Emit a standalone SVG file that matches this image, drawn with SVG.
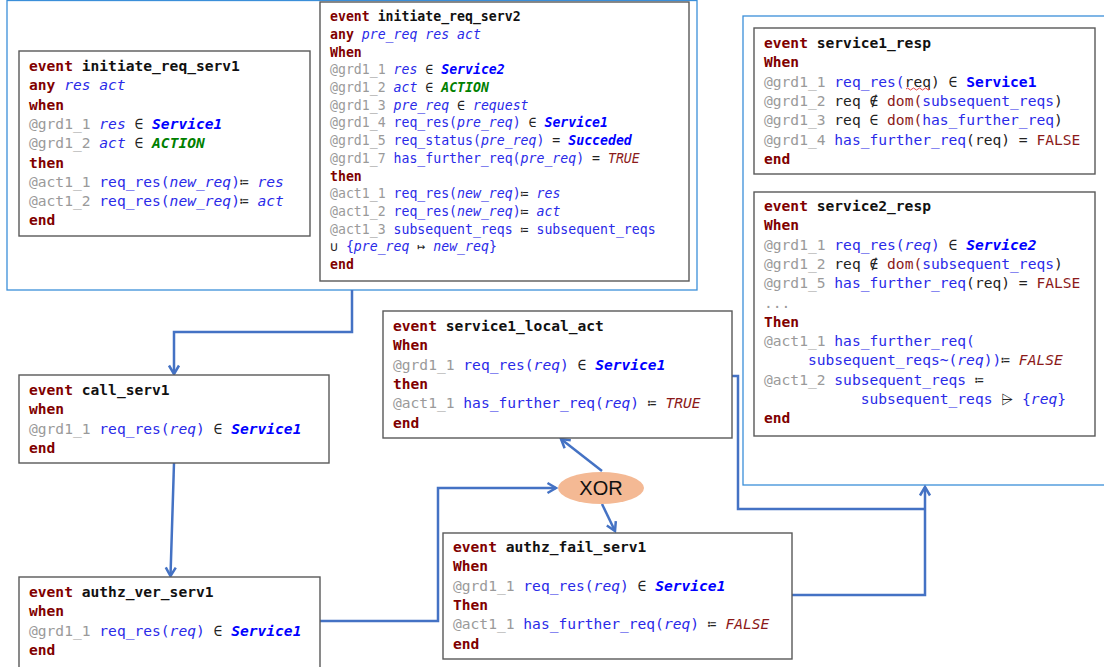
<svg xmlns="http://www.w3.org/2000/svg" width="1104" height="667" viewBox="0 0 1104 667" xml:space="preserve">
<style>
text{white-space:pre;font-family:"DejaVu Sans Mono","Liberation Mono",monospace;fill:#222}
.c1{font-size:14.6px}
.c2{font-size:13.2px}
.k{fill:#800000;font-weight:bold}
.n{fill:#111;font-weight:bold}
.g{fill:#9a9a9a}
.b{fill:#2a2ae8}
.v{fill:#2a2ae8;font-style:italic}
.s{fill:#0000ff;font-weight:bold;font-style:italic}
.sb{fill:#0000ff;font-weight:bold}
.a{fill:#008000;font-weight:bold;font-style:italic}
.t{fill:#8b1a1a;font-style:italic}
.r{fill:#8b1a1a}
.o{fill:#222}
.oi{fill:#222;font-style:italic}
.box{fill:#fff;stroke:#595959;stroke-width:1.4}
.cont{fill:none;stroke:#3b8fd9;stroke-width:1.3}
.con{fill:none;stroke:#4472c4;stroke-width:2.5}
</style>
<defs>
<marker id="arr" markerUnits="userSpaceOnUse" viewBox="0 0 12 12" markerWidth="12" markerHeight="12" refX="10.5" refY="6" orient="auto" overflow="visible">
<path d="M2,1 L10.5,6 L2,11" fill="none" stroke="#4472c4" stroke-width="2.5"/>
</marker>
</defs>
<rect width="1104" height="667" fill="#fff"/>
<g id="containers">
<rect class="cont" x="7" y="0.5" width="690" height="289.5"/>
<rect class="cont" x="743" y="16" width="370" height="469"/>
</g>
<g id="connectors">
<path class="con" d="M352,290 V332 H174 V374" marker-end="url(#arr)"/>
<path class="con" d="M174,463 L170.5,576" marker-end="url(#arr)"/>
<path class="con" d="M320,621 H438 V488 H556" marker-end="url(#arr)"/>
<path class="con" d="M602,471 L561,439" marker-end="url(#arr)"/>
<path class="con" d="M602,504 L615,531" marker-end="url(#arr)"/>
<path class="con" d="M792,595 H925 V487" marker-end="url(#arr)"/>
<path class="con" d="M732,376 H738 V509 H925"/>
</g>
<g id="initiate_req_serv1">
<rect class="box" x="19" y="51" width="291" height="185"/>
<text class="c1" x="29" y="71"><tspan class="k">event</tspan> <tspan class="n">initiate_req_serv1</tspan></text>
<text class="c1" x="29" y="90.3"><tspan class="k">any</tspan> <tspan class="v">res act</tspan></text>
<text class="c1" x="29" y="109.6"><tspan class="k">when</tspan></text>
<text class="c1" x="29" y="128.9"><tspan class="g">@grd1_1</tspan> <tspan class="v">res</tspan> <tspan class="oi">∈</tspan> <tspan class="s">Service1</tspan></text>
<text class="c1" x="29" y="148.2"><tspan class="g">@grd1_2</tspan> <tspan class="v">act</tspan> <tspan class="oi">∈</tspan> <tspan class="a">ACTION</tspan></text>
<text class="c1" x="29" y="167.5"><tspan class="k">then</tspan></text>
<text class="c1" x="29" y="186.8"><tspan class="g">@act1_1</tspan> <tspan class="b">req_res(</tspan><tspan class="v">new_req</tspan><tspan class="b">)</tspan><tspan class="o">≔</tspan> <tspan class="v">res</tspan></text>
<text class="c1" x="29" y="206.1"><tspan class="g">@act1_2</tspan> <tspan class="b">req_res(</tspan><tspan class="v">new_req</tspan><tspan class="b">)</tspan><tspan class="o">≔</tspan> <tspan class="v">act</tspan></text>
<text class="c1" x="29" y="225.4"><tspan class="k">end</tspan></text>
</g>
<g id="initiate_req_serv2">
<rect class="box" x="320" y="2" width="369" height="279"/>
<text class="c2" x="330" y="21.2"><tspan class="k">event</tspan> <tspan class="n">initiate_req_serv2</tspan></text>
<text class="c2" x="330" y="38.9"><tspan class="k">any</tspan> <tspan class="v">pre_req res act</tspan></text>
<text class="c2" x="330" y="56.6"><tspan class="k">When</tspan></text>
<text class="c2" x="330" y="74.3"><tspan class="g">@grd1_1</tspan> <tspan class="v">res</tspan> <tspan class="oi">∈</tspan> <tspan class="s">Service2</tspan></text>
<text class="c2" x="330" y="92"><tspan class="g">@grd1_2</tspan> <tspan class="v">act</tspan> <tspan class="oi">∈</tspan> <tspan class="a">ACTION</tspan></text>
<text class="c2" x="330" y="109.7"><tspan class="g">@grd1_3</tspan> <tspan class="v">pre_req</tspan> <tspan class="oi">∈</tspan> <tspan class="v">request</tspan></text>
<text class="c2" x="330" y="127.4"><tspan class="g">@grd1_4</tspan> <tspan class="b">req_res(</tspan><tspan class="v">pre_req</tspan><tspan class="b">)</tspan> <tspan class="oi">∈</tspan> <tspan class="s">Service1</tspan></text>
<text class="c2" x="330" y="145.1"><tspan class="g">@grd1_5</tspan> <tspan class="b">req_status(</tspan><tspan class="v">pre_req</tspan><tspan class="b">)</tspan> <tspan class="o">=</tspan> <tspan class="s">Succeded</tspan></text>
<text class="c2" x="330" y="162.8"><tspan class="g">@grd1_7</tspan> <tspan class="b">has_further_req(</tspan><tspan class="v">pre_req</tspan><tspan class="b">)</tspan> <tspan class="o">=</tspan> <tspan class="t">TRUE</tspan></text>
<text class="c2" x="330" y="180.5"><tspan class="k">then</tspan></text>
<text class="c2" x="330" y="198.2"><tspan class="g">@act1_1</tspan> <tspan class="b">req_res(</tspan><tspan class="v">new_req</tspan><tspan class="b">)</tspan><tspan class="o">≔</tspan> <tspan class="v">res</tspan></text>
<text class="c2" x="330" y="215.9"><tspan class="g">@act1_2</tspan> <tspan class="b">req_res(</tspan><tspan class="v">new_req</tspan><tspan class="b">)</tspan><tspan class="o">≔</tspan> <tspan class="v">act</tspan></text>
<text class="c2" x="330" y="233.6"><tspan class="g">@act1_3</tspan> <tspan class="b">subsequent_reqs</tspan> <tspan class="o">≔</tspan> <tspan class="b">subsequent_reqs</tspan></text>
<text class="c2" x="330" y="251.3"><tspan class="o">∪</tspan> <tspan class="b">{</tspan><tspan class="v">pre_req</tspan> <tspan class="o">↦</tspan> <tspan class="v">new_req</tspan><tspan class="b">}</tspan></text>
<text class="c2" x="330" y="269"><tspan class="k">end</tspan></text>
</g>
<g id="service1_resp">
<rect class="box" x="754" y="28" width="341" height="146"/>
<text class="c1" x="764" y="48"><tspan class="k">event</tspan> <tspan class="n">service1_resp</tspan></text>
<text class="c1" x="764" y="67.3"><tspan class="k">When</tspan></text>
<text class="c1" x="764" y="86.6"><tspan class="g">@grd1_1</tspan> <tspan class="b">req_res(</tspan><tspan class="o">req</tspan><tspan class="o">)</tspan> <tspan class="o">∈</tspan> <tspan class="sb">Service1</tspan></text>
<path d="M906,89 q1.5,-2 3,0 t3,0 t3,0 t3,0 t3,0 t3,0 t3,0 t3,0" fill="none" stroke="#e03030" stroke-width="0.9"/>
<text class="c1" x="764" y="105.9"><tspan class="g">@grd1_2</tspan> <tspan class="o">req</tspan> <tspan class="o">∉</tspan> <tspan class="r">dom(</tspan><tspan class="b">subsequent_reqs</tspan><tspan class="o">)</tspan></text>
<text class="c1" x="764" y="125.2"><tspan class="g">@grd1_3</tspan> <tspan class="o">req</tspan> <tspan class="o">∈</tspan> <tspan class="r">dom(</tspan><tspan class="b">has_further_req</tspan><tspan class="o">)</tspan></text>
<text class="c1" x="764" y="144.5"><tspan class="g">@grd1_4</tspan> <tspan class="b">has_further_req</tspan><tspan class="o">(req)</tspan> <tspan class="o">=</tspan> <tspan class="r">FALSE</tspan></text>
<text class="c1" x="764" y="163.8"><tspan class="k">end</tspan></text>
</g>
<g id="service2_resp">
<rect class="box" x="754" y="192" width="341" height="244"/>
<text class="c1" x="764" y="211"><tspan class="k">event</tspan> <tspan class="n">service2_resp</tspan></text>
<text class="c1" x="764" y="230.3"><tspan class="k">When</tspan></text>
<text class="c1" x="764" y="249.6"><tspan class="g">@grd1_1</tspan> <tspan class="b">req_res(</tspan><tspan class="v">req</tspan><tspan class="b">)</tspan> <tspan class="oi">∈</tspan> <tspan class="s">Service2</tspan></text>
<text class="c1" x="764" y="268.9"><tspan class="g">@grd1_2</tspan> <tspan class="o">req</tspan> <tspan class="o">∉</tspan> <tspan class="r">dom(</tspan><tspan class="b">subsequent_reqs</tspan><tspan class="o">)</tspan></text>
<text class="c1" x="764" y="288.2"><tspan class="g">@grd1_5</tspan> <tspan class="b">has_further_req</tspan><tspan class="o">(req)</tspan> <tspan class="o">=</tspan> <tspan class="r">FALSE</tspan></text>
<text class="c1" x="764" y="307.5"><tspan class="g">...</tspan></text>
<text class="c1" x="764" y="326.8"><tspan class="k">Then</tspan></text>
<text class="c1" x="764" y="346.1"><tspan class="g">@act1_1</tspan> <tspan class="b">has_further_req(</tspan></text>
<text class="c1" x="764" y="365.4">     <tspan class="b">subsequent_reqs~(</tspan><tspan class="v">req</tspan><tspan class="b">))</tspan><tspan class="o">≔</tspan> <tspan class="t">FALSE</tspan></text>
<text class="c1" x="764" y="384.7"><tspan class="g">@act1_2</tspan> <tspan class="b">subsequent_reqs</tspan> <tspan class="o">≔</tspan></text>
<text class="c1" x="764" y="404">           <tspan class="b">subsequent_reqs</tspan> <tspan class="o">⩥</tspan> <tspan class="b">{</tspan><tspan class="v">req</tspan><tspan class="b">}</tspan></text>
<text class="c1" x="764" y="423.3"><tspan class="k">end</tspan></text>
</g>
<g id="call_serv1">
<rect class="box" x="19" y="375" width="310" height="88"/>
<text class="c1" x="29" y="395"><tspan class="k">event</tspan> <tspan class="n">call_serv1</tspan></text>
<text class="c1" x="29" y="414.3"><tspan class="k">when</tspan></text>
<text class="c1" x="29" y="433.6"><tspan class="g">@grd1_1</tspan> <tspan class="b">req_res(</tspan><tspan class="v">req</tspan><tspan class="b">)</tspan> <tspan class="oi">∈</tspan> <tspan class="s">Service1</tspan></text>
<text class="c1" x="29" y="452.9"><tspan class="k">end</tspan></text>
</g>
<g id="service1_local_act">
<rect class="box" x="383" y="311" width="349" height="127"/>
<text class="c1" x="393" y="331"><tspan class="k">event</tspan> <tspan class="n">service1_local_act</tspan></text>
<text class="c1" x="393" y="350.3"><tspan class="k">When</tspan></text>
<text class="c1" x="393" y="369.6"><tspan class="g">@grd1_1</tspan> <tspan class="b">req_res(</tspan><tspan class="v">req</tspan><tspan class="b">)</tspan> <tspan class="oi">∈</tspan> <tspan class="s">Service1</tspan></text>
<text class="c1" x="393" y="388.9"><tspan class="k">then</tspan></text>
<text class="c1" x="393" y="408.2"><tspan class="g">@act1_1</tspan> <tspan class="b">has_further_req(</tspan><tspan class="v">req</tspan><tspan class="b">)</tspan> <tspan class="o">≔</tspan> <tspan class="t">TRUE</tspan></text>
<text class="c1" x="393" y="427.5"><tspan class="k">end</tspan></text>
</g>
<g id="authz_ver_serv1">
<rect class="box" x="19" y="577" width="301" height="100"/>
<text class="c1" x="29" y="597"><tspan class="k">event</tspan> <tspan class="n">authz_ver_serv1</tspan></text>
<text class="c1" x="29" y="616.3"><tspan class="k">when</tspan></text>
<text class="c1" x="29" y="635.6"><tspan class="g">@grd1_1</tspan> <tspan class="b">req_res(</tspan><tspan class="v">req</tspan><tspan class="b">)</tspan> <tspan class="oi">∈</tspan> <tspan class="s">Service1</tspan></text>
<text class="c1" x="29" y="654.9"><tspan class="k">end</tspan></text>
</g>
<g id="authz_fail_serv1">
<rect class="box" x="443" y="533" width="349" height="126"/>
<text class="c1" x="453" y="552"><tspan class="k">event</tspan> <tspan class="n">authz_fail_serv1</tspan></text>
<text class="c1" x="453" y="571.3"><tspan class="k">When</tspan></text>
<text class="c1" x="453" y="590.6"><tspan class="g">@grd1_1</tspan> <tspan class="b">req_res(</tspan><tspan class="v">req</tspan><tspan class="b">)</tspan> <tspan class="oi">∈</tspan> <tspan class="s">Service1</tspan></text>
<text class="c1" x="453" y="609.9"><tspan class="k">Then</tspan></text>
<text class="c1" x="453" y="629.2"><tspan class="g">@act1_1</tspan> <tspan class="b">has_further_req(</tspan><tspan class="v">req</tspan><tspan class="b">)</tspan> <tspan class="o">≔</tspan> <tspan class="t">FALSE</tspan></text>
<text class="c1" x="453" y="648.5"><tspan class="k">end</tspan></text>
</g>
<g id="xor">
<ellipse cx="601" cy="488" rx="43" ry="16" fill="#f4b994"/>
<text x="601" y="495" text-anchor="middle" style="font-family:'Liberation Sans','Open Sans',sans-serif;font-size:20px;fill:#111">XOR</text>
</g>
</svg>
